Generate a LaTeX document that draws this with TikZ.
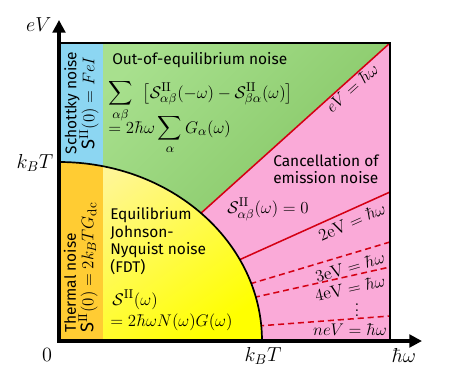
\documentclass[tikz,border=0pt]{standalone}
\usepackage{amsmath}
\usepackage{fontspec}
\setsansfont{Fira Sans}
\usetikzlibrary{positioning, arrows.meta, calc}
\definecolor{schottkycolor}{RGB}{140,214,242}
\definecolor{thermalcolor}{RGB}{255,204,51}
\definecolor{greenlight}{RGB}{168,224,142}
\definecolor{greendark}{RGB}{122,190,88}
\definecolor{pinkcolor}{RGB}{250,170,216}
\definecolor{yellowlight}{RGB}{255,246,150}
\definecolor{yellowdark}{RGB}{255,255,0}
\definecolor{linecolor}{RGB}{212,0,20}

\begin{document}
\begin{tikzpicture}[
    x=0.025cm,
    y=-0.025cm,
    font=\sffamily,
    axisline/.style={line width=2.2pt, {Triangle[length=9pt, width=9pt]}-{Triangle[length=9pt, width=9pt]}},
    boxframe/.style={line width=1.5pt},
    resline/.style={line width=1.1pt, color=linecolor},
    resdash/.style={resline, dash pattern=on 4.3pt off 2.8pt},
    regiontext/.style={align=left, inner sep=0pt, font=\sffamily\fontsize{11}{12.6}\selectfont},
    regionmath/.style={inner sep=0pt, font=\fontsize{13}{15}\selectfont},
    axislabel/.style={inner sep=1pt, font=\fontsize{14}{16}\selectfont},
    linelabel/.style={inner sep=0pt, font=\fontsize{12.5}{15}\selectfont}
]

\useasboundingbox (0,0) rectangle (463,371);

%% corners of the plot %%
\coordinate (origin) at (59,341);
\coordinate (topleft) at (59,43);
\coordinate (topright) at (390,43);
\coordinate (botright) at (390,341);

%% REGIONS %%
\shade [top color=greenlight, bottom color=greendark, shading angle=45]
    (topleft) -- (topright) -- (origin) -- cycle;
\fill [pinkcolor] (topright) -- (botright) -- (origin) -- cycle;
\fill [schottkycolor] (topleft) rectangle (103,200);

%% resonance lines neV = hbar omega %%
\draw [resline] (origin) -- (topright);
\draw [resline] (origin) -- (390,192);
\draw [resdash] (origin) -- (390,242);
\draw [resdash] (origin) -- (390,267);
\draw [resdash] (origin) -- (390,316);

\node (onelabel) [linelabel, rotate=42] at (352,88) {$eV=\hbar\omega$};
\node (twolabel) [linelabel, rotate=24.2] at (352,222) {$2\mathrm{eV}=\hbar\omega$};
\node (threelabel) [linelabel, rotate=16.7] at (350,267) {$3\mathrm{eV}=\hbar\omega$};
\node (fourlabel) [linelabel, rotate=12.7] at (350,288) {$4\mathrm{eV}=\hbar\omega$};
\node (vdots) [linelabel] at (357,306) {$\vdots$};
\node (nlabel) [linelabel] at (350,330) {$neV=\hbar\omega$};

%% equilibrium quarter ellipse %%
\begin{scope}
    \clip (topleft) rectangle (botright);
    \begin{scope}
        \clip (origin) ellipse [x radius=203, y radius=179];
        \shade [top color=yellowlight, bottom color=yellowdark, shading angle=35]
            (59,162) rectangle (262,341);
        \fill [thermalcolor] (59,150) rectangle (103,341);
    \end{scope}
    \draw [line width=1.2pt] (origin) ellipse [x radius=203, y radius=179];
\end{scope}

%% frame and axes %%
\draw [boxframe] (topleft) -- (topright) -- (botright);
\draw [axisline] (59,20) -- (origin) -- (422,341);

%% AXIS LABELS %%
\node (evlabel) [axislabel, anchor=east] at (53,25) {$eV$};
\node (kbtleft) [axislabel, anchor=east] at (55,163) {$k_BT$};
\node (zerolabel) [axislabel] at (47,355) {$0$};
\node (kbtbottom) [axislabel] at (263,356) {$k_BT$};
\node (hwlabel) [axislabel] at (404,355) {$\hbar\omega$};

%% REGION TEXTS %%
\node (schottkytext) [regiontext, rotate=90] at (72,103) {Schottky noise};
\node (schottkyform) [regionmath, rotate=90] at (89,103)
    {\textsf{S}$^{\mathrm{II}}(0)=FeI$};

\node (thermaltext) [regiontext, rotate=90, anchor=west] at (70,333) {Thermal noise};
\node (thermalform) [regionmath, rotate=90, anchor=west] at (88,333)
    {\textsf{S}$^{\mathrm{II}}(0)=2k_BTG_{\mathrm{dc}}$};

\node (outtitle) [regiontext, anchor=west] at (112,60) {Out-of-equilibrium noise};
\node (outsum) [regionmath, anchor=base west] at (108,98)
    {$\displaystyle\sum_{\alpha\beta}\;\,\big[\mathcal{S}^{\mathrm{II}}_{\alpha\beta}(-\omega)
    -\mathcal{S}^{\mathrm{II}}_{\beta\alpha}(\omega)\big]$};
\node (outsumb) [regionmath, anchor=base west] at (108,133)
    {$\displaystyle=2\hbar\omega\sum_{\alpha}G_\alpha(\omega)$};

\node (canceltext) [regiontext, anchor=west] at (273,169) {Cancellation of\\emission noise};
\node (cancelform) [regionmath, anchor=base west] at (227,213)
    {$\mathcal{S}^{\mathrm{II}}_{\alpha\beta}(\omega)=0$};

\node (equitext) [regiontext, anchor=west] at (110,241)
    {Equilibrium\\Johnson-\\Nyquist noise\\(FDT)};
\node (equiform) [regionmath, anchor=base west] at (112,305)
    {$\mathcal{S}^{\mathrm{II}}(\omega)$};
\node (equiformb) [regionmath, anchor=base west] at (110,326)
    {$=2\hbar\omega N(\omega)G(\omega)$};

\end{tikzpicture}
\end{document}
